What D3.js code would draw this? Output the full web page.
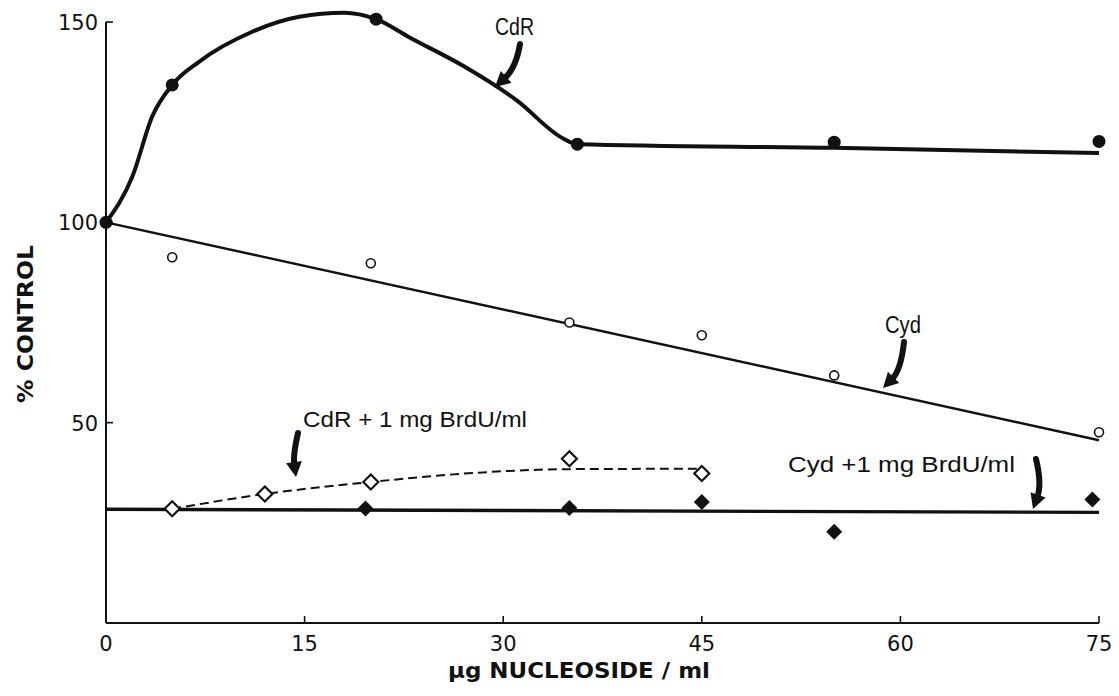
<!DOCTYPE html>
<html>
<head>
<meta charset="utf-8">
<script src="https://cdn.jsdelivr.net/npm/d3@7"></script>
<style>
  html, body { margin: 0; padding: 0; background: #fff; }
  svg { display: block; }
  .tick-label { font-family: "DejaVu Sans", sans-serif; font-size: 21px; fill: #111; }
  .axis-title { font-family: "DejaVu Sans", sans-serif; font-weight: bold; font-size: 21px; fill: #111; }
  .note { font-family: "Liberation Sans Narrow", "Liberation Sans", sans-serif; font-size: 22px; fill: #111; }
  .note-big { font-family: "Liberation Sans Narrow", "Liberation Sans", sans-serif; font-size: 23px; fill: #111; }
</style>
</head>
<body>
<svg id="chart" width="1119" height="696"></svg>
<script>
// Axis ticks
const xTicks = [0, 15, 30, 45, 60, 75];
const yTicks = [50, 100, 150];

// Measured points (µg nucleoside / ml vs % control)
const cdrX = [0, 5, 20.4, 35.6, 55, 75];
const cdrY = [100, 134.3, 150.7, 119.5, 120, 120.2];

const cydX = [0, 5, 20, 35, 45, 55, 75];
const cydY = [100, 91.3, 89.8, 75, 71.8, 61.8, 47.6];

const cdrBrduX = [5, 12, 20, 35, 45];
const cdrBrduY = [28.5, 32.2, 35.2, 41, 37.3];

const cydBrduX = [19.6, 35, 45, 55, 74.5];
const cydBrduY = [28.6, 28.7, 30.2, 22.8, 30.8];

// Hand-fitted curves drawn through each series
const cdrFitX = [0, 2, 3.5, 5, 7, 11, 14.6, 18, 20.4, 23, 27, 31, 34.5, 35.6, 55, 75];
const cdrFitY = [100, 111.5, 126.5, 134.3, 140, 147.5, 151.3, 152.3, 150.7, 146, 139, 130.5, 121, 119.5, 118.6, 117.3];

const cydFitX = [0, 75];
const cydFitY = [100, 45.6];

const cdrBrduFitX = [5, 12, 20, 28, 35, 45];
const cdrBrduFitY = [28.5, 32.2, 35.2, 37.5, 38.4, 38.5];

const cydBrduFitX = [0, 75];
const cydBrduFitY = [28.4, 27.6];

const svg = d3.select("#chart");
const x = d3.scaleLinear().domain([0, 75]).range([106, 1099]);
const y = d3.scaleLinear().domain([0, 150]).range([623, 22]);

const zip = (a, b) => a.map((v, i) => [v, b[i]]);

// Axes: left and bottom lines with short inward ticks
const axisG = svg.append("g").attr("stroke", "#111").attr("stroke-width", 2).attr("fill", "none");
axisG.append("line").attr("x1", x(0)).attr("x2", x(0)).attr("y1", y(150)).attr("y2", y(0));
axisG.append("line").attr("x1", x(0)).attr("x2", x(75)).attr("y1", y(0)).attr("y2", y(0));
yTicks.forEach(t => {
  axisG.append("line").attr("x1", x(0)).attr("x2", x(0) + 7).attr("y1", y(t)).attr("y2", y(t)).attr("stroke-width", 1.6);
});
xTicks.filter(t => t > 0).forEach(t => {
  axisG.append("line").attr("x1", x(t)).attr("x2", x(t)).attr("y1", y(0)).attr("y2", y(0) - 7).attr("stroke-width", 1.6);
});

svg.selectAll("text.xt").data(xTicks).enter().append("text")
  .attr("class", "tick-label xt")
  .attr("x", d => x(d)).attr("y", 651)
  .attr("text-anchor", "middle")
  .text(d => d);

svg.selectAll("text.yt").data(yTicks).enter().append("text")
  .attr("class", "tick-label yt")
  .attr("x", 98).attr("y", d => y(d) + 8)
  .attr("text-anchor", "end")
  .text(d => d);

// Axis titles
svg.append("text").attr("class", "axis-title")
  .attr("x", 448).attr("y", 678)
  .attr("textLength", 262).attr("lengthAdjust", "spacingAndGlyphs")
  .text("µg NUCLEOSIDE / ml");

svg.append("text").attr("class", "axis-title")
  .attr("transform", "translate(33,403) rotate(-90)")
  .attr("textLength", 158).attr("lengthAdjust", "spacingAndGlyphs")
  .text("% CONTROL");

// Fitted lines
const lineMono = d3.line().x(d => x(d[0])).y(d => y(d[1])).curve(d3.curveMonotoneX);
const lineStraight = d3.line().x(d => x(d[0])).y(d => y(d[1]));

svg.append("path").attr("d", lineMono(zip(cdrFitX, cdrFitY)))
  .attr("fill", "none").attr("stroke", "#111").attr("stroke-width", 4).attr("stroke-linejoin", "round");
svg.append("path").attr("d", lineStraight(zip(cydFitX, cydFitY)))
  .attr("fill", "none").attr("stroke", "#111").attr("stroke-width", 2.4);
svg.append("path").attr("d", lineStraight(zip(cydBrduFitX, cydBrduFitY)))
  .attr("fill", "none").attr("stroke", "#111").attr("stroke-width", 3.4);
svg.append("path").attr("d", lineMono(zip(cdrBrduFitX, cdrBrduFitY)))
  .attr("fill", "none").attr("stroke", "#111").attr("stroke-width", 2).attr("stroke-dasharray", "9,5");

// Markers
const diamond = (cx, cy, r) => `M${cx},${cy - r}L${cx + r},${cy}L${cx},${cy + r}L${cx - r},${cy}Z`;

svg.selectAll("circle.cdr").data(zip(cdrX, cdrY)).enter().append("circle")
  .attr("cx", d => x(d[0])).attr("cy", d => y(d[1])).attr("r", 6.5).attr("fill", "#111");

svg.selectAll("circle.cyd").data(zip(cydX.slice(1), cydY.slice(1))).enter().append("circle")
  .attr("cx", d => x(d[0])).attr("cy", d => y(d[1])).attr("r", 4.5)
  .attr("fill", "#fff").attr("stroke", "#111").attr("stroke-width", 1.6);

svg.selectAll("path.cdrb").data(zip(cdrBrduX, cdrBrduY)).enter().append("path")
  .attr("d", d => diamond(x(d[0]), y(d[1]), 7.5))
  .attr("fill", "#fff").attr("stroke", "#111").attr("stroke-width", 2.2);

svg.selectAll("path.cydb").data(zip(cydBrduX, cydBrduY)).enter().append("path")
  .attr("d", d => diamond(x(d[0]), y(d[1]), 8))
  .attr("fill", "#111");

// Series labels with curved pointer arrows
function arrow(tail, ctrl, tip) {
  const dx = tip[0] - ctrl[0], dy = tip[1] - ctrl[1];
  const len = Math.hypot(dx, dy);
  const ux = dx / len, uy = dy / len;
  const hl = 15, hw = 8;
  const bx = tip[0] - ux * hl, by = tip[1] - uy * hl;
  svg.append("path")
    .attr("d", `M${tail[0]},${tail[1]}Q${ctrl[0]},${ctrl[1]} ${bx + ux * 2},${by + uy * 2}`)
    .attr("fill", "none").attr("stroke", "#111").attr("stroke-width", 6).attr("stroke-linecap", "round");
  svg.append("path")
    .attr("d", `M${tip[0]},${tip[1]}L${bx - uy * hw},${by + ux * hw}L${bx + uy * hw},${by - ux * hw}Z`)
    .attr("fill", "#111");
}

svg.append("text").attr("class", "note-big").attr("x", 495).attr("y", 35)
  .attr("textLength", 39).attr("lengthAdjust", "spacingAndGlyphs").text("CdR");
arrow([520, 44], [516, 68], [495, 87]);

svg.append("text").attr("class", "note-big").attr("x", 885).attr("y", 333)
  .attr("textLength", 36).attr("lengthAdjust", "spacingAndGlyphs").text("Cyd");
arrow([904, 342], [901, 370], [883, 388]);

svg.append("text").attr("class", "note").attr("x", 303).attr("y", 427)
  .attr("textLength", 224).attr("lengthAdjust", "spacingAndGlyphs").text("CdR + 1 mg  BrdU/ml");
arrow([298, 433], [293, 455], [296, 477]);

svg.append("text").attr("class", "note").attr("x", 788).attr("y", 472)
  .attr("textLength", 227).attr("lengthAdjust", "spacingAndGlyphs").text("Cyd  +1 mg  BrdU/ml");
arrow([1036, 459], [1042, 484], [1033, 509]);
</script>
</body>
</html>
